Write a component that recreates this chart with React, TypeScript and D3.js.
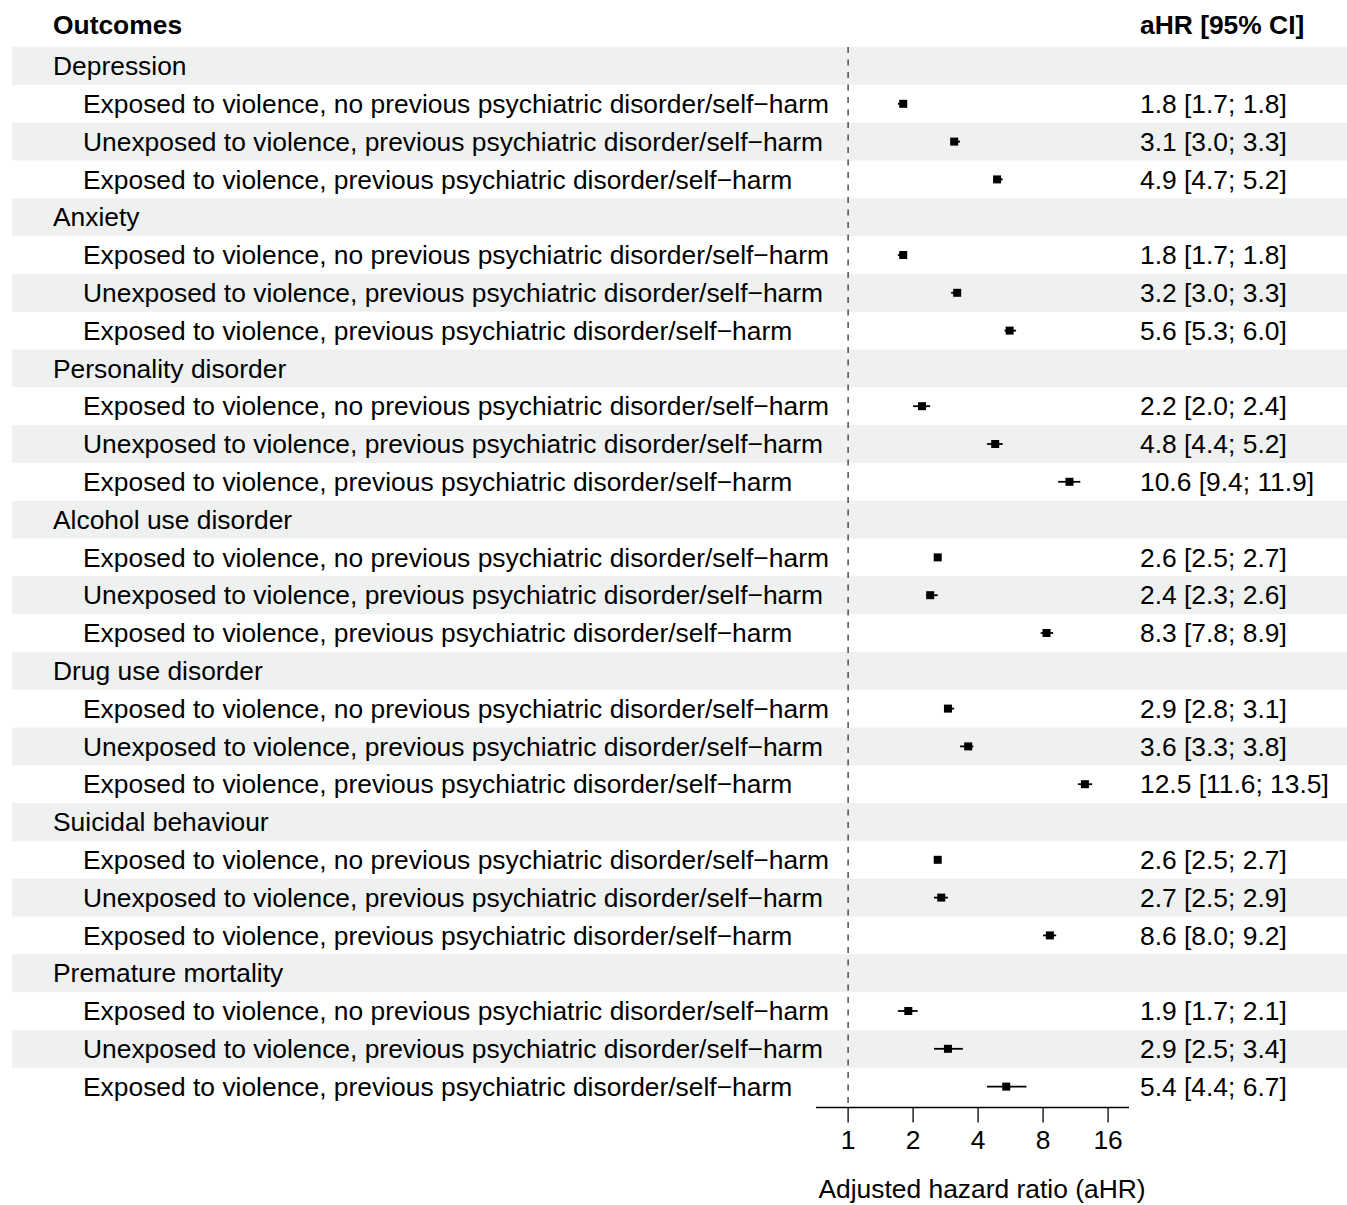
import React from "react";
import * as d3 from "d3";

const outcomes = [
  "Depression",
  "Anxiety",
  "Personality disorder",
  "Alcohol use disorder",
  "Drug use disorder",
  "Suicidal behaviour",
  "Premature mortality",
];

const groups = [
  "Exposed to violence, no previous psychiatric disorder/self\u2212harm",
  "Unexposed to violence, previous psychiatric disorder/self\u2212harm",
  "Exposed to violence, previous psychiatric disorder/self\u2212harm",
];

// [estimate, lower, upper] per outcome x group
const estimates = [
  [1.8, 3.1, 4.9],
  [1.8, 3.2, 5.6],
  [2.2, 4.8, 10.6],
  [2.6, 2.4, 8.3],
  [2.9, 3.6, 12.5],
  [2.6, 2.7, 8.6],
  [1.9, 2.9, 5.4],
];
const lowers = [
  [1.7, 3.0, 4.7],
  [1.7, 3.0, 5.3],
  [2.0, 4.4, 9.4],
  [2.5, 2.3, 7.8],
  [2.8, 3.3, 11.6],
  [2.5, 2.5, 8.0],
  [1.7, 2.5, 4.4],
];
const uppers = [
  [1.8, 3.3, 5.2],
  [1.8, 3.3, 6.0],
  [2.4, 5.2, 11.9],
  [2.7, 2.6, 8.9],
  [3.1, 3.8, 13.5],
  [2.7, 2.9, 9.2],
  [2.1, 3.4, 6.7],
];

const tickValues = [1, 2, 4, 8, 16];

const FONT = "'Liberation Sans', Arial, Helvetica, sans-serif";
const FS = 26.4;

function fmt(v: number) {
  return v.toFixed(1);
}

export default function App() {
  const W = 1347;
  const H = 1205;
  const rowH = 37.8;
  const firstY = 66;

  const x = d3.scaleLog().base(2).domain([0.71, 20]).range([816, 1129]);

  type Row = { kind: "head" | "item"; label: string; o: number; g: number };
  const rows: Row[] = [];
  outcomes.forEach((o, oi) => {
    rows.push({ kind: "head", label: o, o: oi, g: -1 });
    groups.forEach((g, gi) => rows.push({ kind: "item", label: g, o: oi, g: gi }));
  });

  const yOf = (i: number) => firstY + i * rowH;
  const axisY = 1107.5;
  const topY = yOf(0) - rowH / 2;

  return (
    <svg
      width={W}
      height={H}
      style={{ position: "absolute", left: 0, top: 0, background: "#fff" }}
      fontFamily={FONT}
    >
      <rect x={0} y={0} width={W} height={H} fill="#fff" />
      {rows.map((r, i) =>
        i % 2 === 0 ? (
          <rect key={"bg" + i} x={12} y={yOf(i) - rowH / 2} width={W - 12} height={rowH} fill="#eef1f0" />
        ) : null
      )}
      {/* headers */}
      <text x={53} y={25} dy="0.35em" fontSize={FS} fontWeight="bold" fill="#000">
        Outcomes
      </text>
      <text x={1140} y={25} dy="0.35em" fontSize={FS} fontWeight="bold" fill="#000">
        aHR [95% CI]
      </text>
      {/* reference line */}
      <line
        x1={x(1)}
        x2={x(1)}
        y1={topY}
        y2={axisY - 2}
        stroke="#444"
        strokeWidth={1.4}
        strokeDasharray="6,6.5"
      />
      {rows.map((r, i) => {
        const y = yOf(i);
        if (r.kind === "head") {
          return (
            <text key={"t" + i} x={53} y={y} dy="0.35em" fontSize={FS} fill="#000">
              {r.label}
            </text>
          );
        }
        const est = estimates[r.o][r.g];
        const lo = lowers[r.o][r.g];
        const hi = uppers[r.o][r.g];
        return (
          <g key={"t" + i}>
            <text x={83} y={y} dy="0.35em" fontSize={FS} fill="#000">
              {r.label}
            </text>
            <line x1={x(lo)} x2={x(hi)} y1={y} y2={y} stroke="#000" strokeWidth={1.8} />
            <rect x={x(est) - 4} y={y - 4} width={8} height={8} fill="#000" />
            <text x={1140} y={y} dy="0.35em" fontSize={FS} fill="#000">
              {`${fmt(est)} [${fmt(lo)}; ${fmt(hi)}]`}
            </text>
          </g>
        );
      })}
      {/* axis */}
      <line x1={816} x2={1129} y1={axisY} y2={axisY} stroke="#000" strokeWidth={1.3} />
      {tickValues.map((t) => (
        <g key={"tick" + t}>
          <line x1={x(t)} x2={x(t)} y1={axisY} y2={axisY + 15} stroke="#000" strokeWidth={1.3} />
          <text x={x(t)} y={1140} dy="0.35em" fontSize={FS} textAnchor="middle" fill="#000">
            {t}
          </text>
        </g>
      ))}
      <text x={982} y={1198} fontSize={FS} textAnchor="middle" fill="#000">
        Adjusted hazard ratio (aHR)
      </text>
    </svg>
  );
}
